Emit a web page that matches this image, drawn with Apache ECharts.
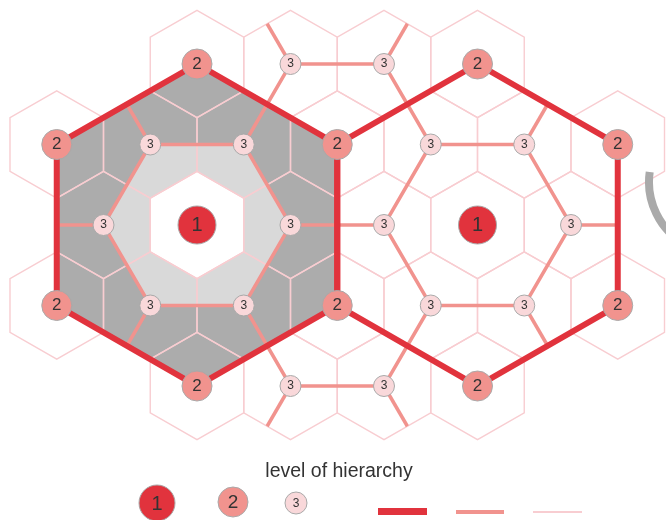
<!DOCTYPE html>
<html>
<head>
<meta charset="utf-8">
<script src="https://cdn.jsdelivr.net/npm/echarts@6/dist/echarts.min.js"></script>
<style>html,body{margin:0;padding:0;background:#fff}#chart{width:666px;height:520px}</style>
</head>
<body>
<div id="chart"></div>
<script>
// ---- data (hex lattice units: x = cell columns, y = cell rows) ----
const level1 = [[0,0],[3,0]];
const level2 = [[0,-2],[-1.5,-1],[1.5,-1],[-1.5,1],[1.5,1],[0,2],[3,-2],[4.5,-1],[4.5,1],[3,2]];
const level3 = [[-0.5,-1],[0.5,-1],[-1,0],[1,0],[-0.5,1],[0.5,1],[1,-2],[2,-2],[1,2],[2,2],
                [2.5,-1],[3.5,-1],[2,0],[4,0],[2.5,1],[3.5,1]];
const cells = [
  [0,-2],[1,-2],[2,-2],[3,-2],
  [-1.5,-1],[-0.5,-1],[0.5,-1],[1.5,-1],[2.5,-1],[3.5,-1],[4.5,-1],
  [-1,0],[0,0],[1,0],[2,0],[3,0],[4,0],
  [-1.5,1],[-0.5,1],[0.5,1],[1.5,1],[2.5,1],[3.5,1],[4.5,1],
  [0,2],[1,2],[2,2],[3,2]
];
const level2Rings = [
  [[0,-2],[1.5,-1],[1.5,1],[0,2],[-1.5,1],[-1.5,-1]],
  [[3,-2],[4.5,-1],[4.5,1],[3,2],[1.5,1],[1.5,-1]]
];
const level3Paths = [
  [[-0.5,-1],[0.5,-1],[1,0],[0.5,1],[-0.5,1],[-1,0],[-0.5,-1]],
  [[2.5,-1],[3.5,-1],[4,0],[3.5,1],[2.5,1],[2,0],[2.5,-1]],
  [[0.5,-1],[1,-2],[2,-2],[2.5,-1]],
  [[0.5,1],[1,2],[2,2],[2.5,1]],
  [[1,0],[2,0]],
  [[-0.5,-1],[-0.75,-1.5]],
  [[-1,0],[-1.5,0]],
  [[-0.5,1],[-0.75,1.5]],
  [[1,-2],[0.75,-2.5]],
  [[2,-2],[2.25,-2.5]],
  [[1,2],[0.75,2.5]],
  [[2,2],[2.25,2.5]],
  [[3.5,-1],[3.75,-1.5]],
  [[4,0],[4.5,0]],
  [[3.5,1],[3.75,1.5]]
];
const hexOffsets = [[0,-2/3],[0.5,-1/3],[0.5,1/3],[0,2/3],[-0.5,1/3],[-0.5,-1/3]];
const shadedRegions = [
  level2Rings[0],
  level3Paths[0].slice(0,6),
  hexOffsets.map(o => [level1[0][0]+o[0], level1[0][1]+o[1]])
];
const levelLabels = ['1','2','3'];
const legendTitle = 'level of hierarchy';

// ---- styles ----
const C1 = '#e1333d', C2 = '#f1938e', C3 = '#f9d8da', CELL = '#f8cdd1', BORDER = '#a9a9a9';
const shadeColors = ['#acacac','#d9d9d9','#ffffff'];
const FONT = 'Liberation Sans, Arial, sans-serif';

const chart = echarts.init(document.getElementById('chart'), null, {renderer:'canvas'});

function pathSeries(paths, color, width, z) {
  return {
    type:'custom', coordinateSystem:'cartesian2d', clip:false, z:z, silent:true,
    data: paths.map(p => [p[0][0], p[0][1]]),
    renderItem: function (params, api) {
      const pts = paths[params.dataIndex].map(p => api.coord(p));
      return {type:'polyline', shape:{points:pts},
        style:{stroke:color, lineWidth:width, fill:null, lineJoin:'miter', lineCap:'butt'}};
    }
  };
}
function nodeSeries(data, label, size, color, fontSize, z) {
  return {
    type:'scatter', data:data, symbol:'circle', symbolSize:size, z:z, silent:true,
    itemStyle:{color:color, borderColor:BORDER, borderWidth:1, opacity:1},
    label:{show:true, position:'inside', formatter:label, color:'#333', fontSize:fontSize, fontFamily:FONT},
    emphasis:{disabled:true}
  };
}

const option = {
  animation:false,
  grid:{left:0, right:0, top:0, bottom:0},
  xAxis:{type:'value', min:-197/93.5, max:469/93.5, show:false},
  yAxis:{type:'value', inverse:true, min:-225/80.5, max:295/80.5, show:false},
  series:[
    { // shaded areas
      type:'custom', coordinateSystem:'cartesian2d', clip:false, z:1, silent:true,
      data: shadedRegions.map(r => [r[0][0], r[0][1]]),
      renderItem: function (params, api) {
        const pts = shadedRegions[params.dataIndex].map(p => api.coord(p));
        return {type:'polygon', shape:{points:pts}, style:{fill:shadeColors[params.dataIndex], stroke:null}};
      }
    },
    { // small hex cells
      type:'custom', coordinateSystem:'cartesian2d', clip:false, z:2, silent:true,
      data: cells,
      renderItem: function (params, api) {
        const cx = api.value(0), cy = api.value(1);
        const pts = hexOffsets.map(o => api.coord([cx+o[0], cy+o[1]]));
        return {type:'polygon', shape:{points:pts}, style:{fill:null, stroke:CELL, lineWidth:1.4}};
      }
    },
    pathSeries(level3Paths, C2, 3.5, 3),
    pathSeries(level2Rings.map(r => r.concat([r[0]])), C1, 6, 4),
    nodeSeries(level3, levelLabels[2], 21, C3, 12, 5),
    nodeSeries(level2, levelLabels[1], 30, C2, 17, 6),
    nodeSeries(level1, levelLabels[0], 38, C1, 20, 7)
  ],
  graphic:[
    {type:'arc', shape:{cx:721, cy:182, r:72, startAngle:120*Math.PI/180, endAngle:188*Math.PI/180},
     style:{stroke:'#aaaaaa', lineWidth:8, fill:null}, z:10, silent:true},
    {type:'text', x:339, y:472, style:{text:legendTitle, fill:'#333', font:'19.5px '+FONT, align:'center', verticalAlign:'middle'}},
    {type:'circle', shape:{cx:157, cy:503, r:18}, style:{fill:C1, stroke:BORDER, lineWidth:1}},
    {type:'text', x:157, y:504, style:{text:levelLabels[0], fill:'#333', font:'20px '+FONT, align:'center', verticalAlign:'middle'}},
    {type:'circle', shape:{cx:233, cy:502, r:15}, style:{fill:C2, stroke:BORDER, lineWidth:1}},
    {type:'text', x:233, y:503, style:{text:levelLabels[1], fill:'#333', font:'19px '+FONT, align:'center', verticalAlign:'middle'}},
    {type:'circle', shape:{cx:296, cy:503, r:11}, style:{fill:C3, stroke:BORDER, lineWidth:1}},
    {type:'text', x:296, y:504, style:{text:levelLabels[2], fill:'#333', font:'12px '+FONT, align:'center', verticalAlign:'middle'}},
    {type:'rect', shape:{x:378, y:508, width:49, height:7}, style:{fill:C1}},
    {type:'rect', shape:{x:456, y:510, width:48, height:4}, style:{fill:C2}},
    {type:'rect', shape:{x:533, y:511, width:49, height:2}, style:{fill:CELL}}
  ]
};
chart.setOption(option);
</script>
</body>
</html>
